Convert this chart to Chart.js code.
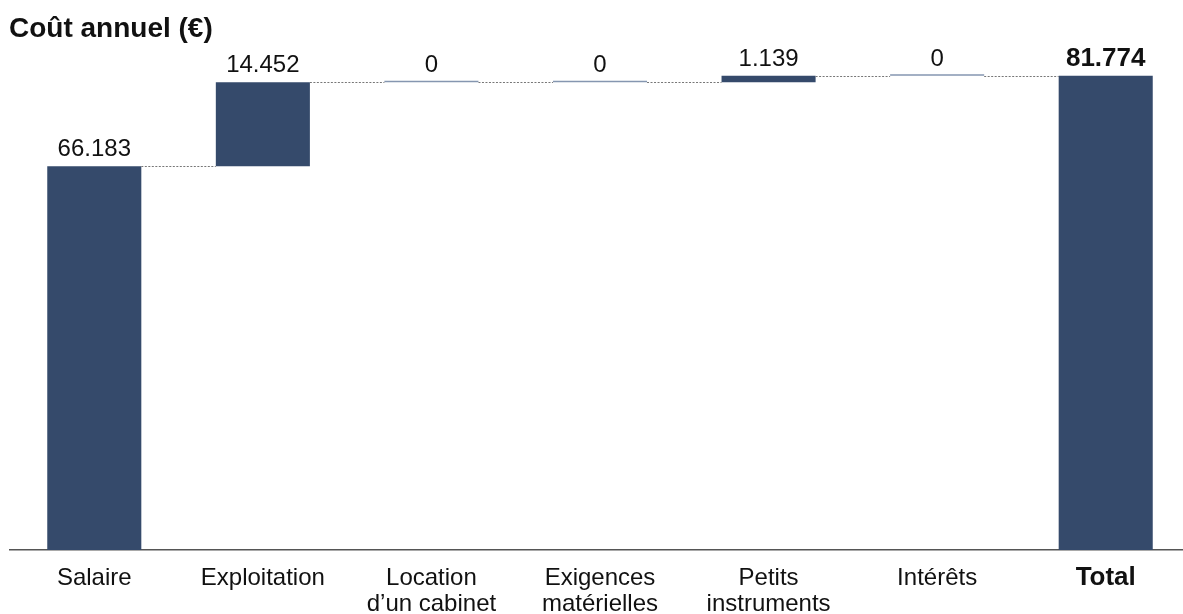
<!DOCTYPE html>
<html>
<head>
<meta charset="utf-8">
<script src="https://cdn.jsdelivr.net/npm/chart.js@4/dist/chart.umd.min.js"></script>
<style>
  html, body { margin: 0; padding: 0; background: #fff; overflow: hidden; }
  #wrap { position: relative; width: 1190px; height: 614px; overflow: hidden; }
  canvas { display: block; }
</style>
</head>
<body>
<div id="wrap">
  <canvas id="c" width="1190" height="633"></canvas>
</div>
<script>
// Cost components (EUR per year) and the total
const chartTitle = 'Coût annuel (€)';
const categories = [
  ['Salaire'],
  ['Exploitation'],
  ['Location', 'd\u2019un cabinet'],
  ['Exigences', 'matérielles'],
  ['Petits', 'instruments'],
  ['Intérêts'],
  ['Total']
];
const steps = [66183, 14452, 0, 0, 1139, 0];
const totalValue = 81774;

const BAR = '#354a6b';
const ZERO_BAR = '#8596b0';
const FONT = '"Liberation Sans", Arial, sans-serif';

// Floating ranges for the waterfall
const ranges = [];
let run = 0;
steps.forEach(v => { ranges.push([run, run + v]); run += v; });
ranges.push([0, totalValue]);
const labelValues = steps.concat([totalValue]);

function fmt(n) {
  return String(n).replace(/\B(?=(\d{3})+(?!\d))/g, '.');
}

// Title, dashed connectors between bars and value labels above bars
const waterfallDecor = {
  id: 'waterfallDecor',
  afterDatasetsDraw(chart) {
    const ctx = chart.ctx;
    const meta = chart.getDatasetMeta(0);
    const y = chart.scales.y;
    ctx.save();
    ctx.fillStyle = '#111';
    ctx.textAlign = 'left';
    ctx.textBaseline = 'alphabetic';
    ctx.font = 'bold 28px ' + FONT;
    ctx.fillText(chartTitle, 9, 36.5);

    ctx.strokeStyle = '#777';
    ctx.lineWidth = 1;
    ctx.setLineDash([2, 1.5]);
    for (let i = 0; i < meta.data.length - 1; i++) {
      const a = meta.data[i], b = meta.data[i + 1];
      const level = ranges[i][1];
      const py = Math.round(y.getPixelForValue(level)) + 0.5;
      ctx.beginPath();
      ctx.moveTo(a.x + a.width / 2, py);
      ctx.lineTo(b.x - b.width / 2, py);
      ctx.stroke();
    }
    ctx.setLineDash([]);
    ctx.textAlign = 'center';
    meta.data.forEach((el, i) => {
      const top = y.getPixelForValue(Math.max(ranges[i][0], ranges[i][1]));
      const isTotal = i === meta.data.length - 1;
      ctx.font = (isTotal ? 'bold 26px ' : '24px ') + FONT;
      ctx.fillText(fmt(labelValues[i]), el.x, top - 10);
    });
    ctx.restore();
  }
};

new Chart(document.getElementById('c'), {
  type: 'bar',
  data: {
    labels: categories,
    datasets: [{
      data: ranges,
      backgroundColor: ctx => (labelValues[ctx.dataIndex] === 0 ? ZERO_BAR : BAR),
      borderWidth: 0,
      minBarLength: 1.5,
      barPercentage: 0.558,
      categoryPercentage: 1
    }]
  },
  options: {
    responsive: false,
    animation: false,
    events: [],
    layout: { padding: { left: 10, right: 0, top: 28, bottom: 0 } },
    plugins: { legend: { display: false }, tooltip: { enabled: false } },
    scales: {
      x: {
        grid: { display: false, drawTicks: false },
        border: { display: true, color: '#555', width: 1.5 },
        ticks: {
          padding: 15,
          color: '#111',
          maxRotation: 0,
          autoSkip: false,
          font: c => (c.index === categories.length - 1
            ? { family: FONT, size: 26, weight: 'bold', lineHeight: '26.5px' }
            : { family: FONT, size: 24, lineHeight: '26.5px' })
        }
      },
      y: {
        display: false,
        min: 0,
        max: 90000
      }
    }
  },
  plugins: [waterfallDecor]
});
</script>
</body>
</html>
